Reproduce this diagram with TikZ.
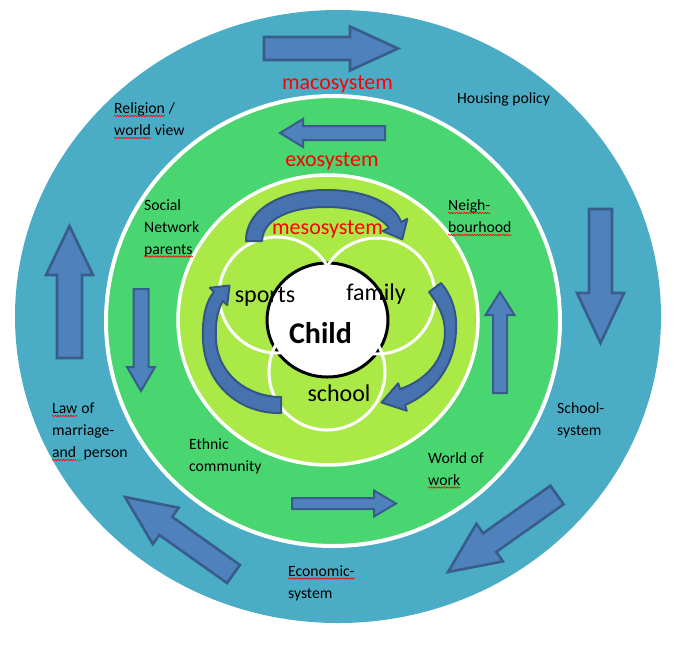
\documentclass[tikz,border=0pt]{standalone}
\usepackage{fontspec}
\setmainfont{Carlito}
\usetikzlibrary{calc,decorations.pathmorphing}
\definecolor{macroc}{RGB}{75,172,198}
\definecolor{exoc}{RGB}{73,214,112}
\definecolor{mesoc}{RGB}{171,233,71}
\definecolor{arrfill}{RGB}{79,129,189}
\definecolor{arrline}{RGB}{56,93,138}
\definecolor{curvfill}{RGB}{70,115,176}
\definecolor{curvline}{RGB}{52,86,132}
\definecolor{sysred}{RGB}{255,0,0}
\definecolor{sqgreen}{RGB}{40,160,40}
\newcommand{\lblfont}{\fontsize{15.7}{22}\selectfont}
\newcommand{\blockarrow}[6]{%
  \coordinate (ba-hb) at ($(#3)!#6!(#2)$);
  \draw[#1] ($(#2)!#4!90:(#3)$) -- ($(ba-hb)!#4!90:(#3)$) -- ($(ba-hb)!#5!90:(#3)$) -- (#3)
    -- ($(ba-hb)!#5!-90:(#3)$) -- ($(ba-hb)!#4!-90:(#3)$) -- ($(#2)!#4!-90:(#3)$) -- cycle;
}
\begin{document}
\begin{tikzpicture}[x=1pt,y=-1pt,
  bigarr/.style={fill=arrfill, draw=arrline, line width=2.6pt, line join=miter},
  midarr/.style={fill=arrfill, draw=arrline, line width=2pt, line join=miter},
  curvarr/.style={fill=curvfill, draw=curvline, line width=2pt, line join=round},
  lbl/.style={font=\lblfont, inner sep=0pt, anchor=base west, text=black},
  syslbl/.style={font=\fontsize{22}{24}\selectfont, inner sep=0pt, anchor=base, text=sysred},
  petlbl/.style={font=\fontsize{24}{26}\selectfont, inner sep=0pt, anchor=base, text=black},
  squig/.style={draw=red, line width=0.6pt, decorate, decoration={snake, segment length=2.6pt, amplitude=0.7pt}},
  squigg/.style={squig, draw=sqgreen},
  petal/.style={draw=white, line width=3pt}
]
\useasboundingbox (0,0) rectangle (693,651);
\fill[white] (0,0) rectangle (693,651);

% rings
\fill[macroc] (338,316.5) ellipse [x radius=323, y radius=306.5];
\draw[white, line width=4pt, fill=exoc] (333,321) ellipse [x radius=227, y radius=225];
\draw[white, line width=3.5pt, fill=mesoc] (328,320) ellipse [x radius=150, y radius=145];
\draw[black, line width=3pt, fill=white] (327.5,320) ellipse [x radius=60.5, y radius=57];
\draw[petal] (277,295) circle [radius=58];
\draw[petal] (377,296) circle [radius=58];
\draw[petal] (327,372) circle [radius=58];

% outer ring arrows
\coordinate (a1t) at (264,48.5);  \coordinate (a1h) at (398,48.5);
\coordinate (a2t) at (600.5,209); \coordinate (a2h) at (600.5,343);
\coordinate (a3t) at (557,495);   \coordinate (a3h) at (448,572);
\coordinate (a4t) at (233.5,574); \coordinate (a4h) at (125,497);
\coordinate (a5t) at (69.5,358);  \coordinate (a5h) at (69.5,226);
\blockarrow{bigarr}{a1t}{a1h}{11.5pt}{22pt}{48pt}
\blockarrow{bigarr}{a2t}{a2h}{11.5pt}{23.5pt}{50pt}
\blockarrow{bigarr}{a3t}{a3h}{11.4pt}{23pt}{51pt}
\blockarrow{bigarr}{a4t}{a4h}{11.1pt}{22.3pt}{50pt}
\blockarrow{bigarr}{a5t}{a5h}{12.5pt}{23.5pt}{49pt}

% middle ring arrows
\coordinate (b1t) at (385,133);   \coordinate (b1h) at (280,133);
\coordinate (b2t) at (141,289);   \coordinate (b2h) at (141,391);
\coordinate (b3t) at (500,393);   \coordinate (b3h) at (500,292);
\coordinate (b4t) at (292,503.5); \coordinate (b4h) at (396,503.5);
\blockarrow{midarr}{b1t}{b1h}{7pt}{14pt}{23pt}
\blockarrow{midarr}{b2t}{b2h}{7.5pt}{14pt}{24pt}
\blockarrow{midarr}{b3t}{b3h}{7pt}{14.5pt}{23pt}
\blockarrow{midarr}{b4t}{b4h}{5.5pt}{13pt}{22pt}

% curved arrows (mesosystem), tapered bands
% A: top, head pointing down at the right
\draw[curvarr] (246,241) .. controls (246,207) and (285,190) .. (326,190)
  .. controls (367,190) and (395,204) .. (401,222)
  -- (407.3,218.9) -- (402.2,239.3) -- (382.7,231.1) -- (389,228)
  .. controls (380,215) and (356,207) .. (326,207)
  .. controls (292,207) and (263,218) .. (262,241) -- cycle;
% B: right, head pointing left at the bottom
\draw[curvarr] (441,283) .. controls (452,296) and (457,312) .. (456,330)
  .. controls (455,365) and (435,392) .. (405,405)
  -- (406.8,410.7) -- (381.5,402.5) -- (398.2,383.3) -- (400,389)
  .. controls (425,381) and (445,360) .. (445,332)
  .. controls (445,318) and (439,305) .. (429,292) -- cycle;
% C: left, head pointing up-right at the top
\draw[curvarr] (281,413) .. controls (240,414) and (205,385) .. (203,340)
  .. controls (202,315) and (207,300) .. (214,292)
  -- (209.8,287.8) -- (229.5,285.5) -- (227.2,305.2) -- (223,301)
  .. controls (218,309) and (215,320) .. (216,340)
  .. controls (218,375) and (248,397) .. (281,397) -- cycle;

% system labels
\node[syslbl] (mac) at (337.5,89) {macosystem};
\node[syslbl] (exo) at (332,166) {exosystem};
\node[syslbl] (mes) at (327.5,234) {mesosystem};

% petal labels
\node[petlbl] (spo) at (265,302) {sports};
\node[petlbl] (fam) at (376,300) {family};
\node[petlbl] (sch) at (339,401) {school};
\node[petlbl, font=\fontsize{30}{32}\selectfont\bfseries] (chi) at (320.5,343) {Child};

% macrosystem labels
\node[lbl] (hou) at (457,103) {Housing policy};
\node[lbl] (rel1) at (114,113.5) {Religion};
\node[lbl] (rel1b) at (rel1.base east) {\ /};
\node[lbl] (rel2) at (114,135.5) {world};
\node[lbl] (rel2b) at (rel2.base east) {\ view};
\node[lbl] (law1) at (52,413.5) {Law};
\node[lbl] (law1b) at (law1.base east) {\ of};
\node[lbl] (law2) at (52,435.5) {marriage-};
\node[lbl] (law3) at (52,457.5) {and};
\node[lbl] (law3b) at (law3.base east) {\ \ person};
\node[lbl] (sch1) at (557,413) {School-};
\node[lbl] (sch2) at (557,435) {system};
\node[lbl] (eco1) at (288,576) {Economic-};
\node[lbl] (eco2) at (288,598) {system};

% exosystem labels
\node[lbl] (soc1) at (144,210.5) {Social};
\node[lbl] (soc2) at (144,232.5) {Network};
\node[lbl] (soc3) at (144,254) {parents};
\node[lbl] (nei1) at (448,210.5) {Neigh-};
\node[lbl] (nei2) at (448,232.5) {bourhood};
\node[lbl] (eth1) at (189,449) {Ethnic};
\node[lbl] (eth2) at (189,471) {community};
\node[lbl] (wow1) at (428,463) {World of};
\node[lbl] (wow2) at (428,485) {work};

% spelling squiggles
\foreach \n in {rel1,rel2,law1,law3,eco1,soc3,nei1,nei2,wow2}
  \draw[squig] ($(\n.base west)+(0,2.5)$) -- ($(\n.base east)+(0,2.5)$);
\draw[squigg] ($(law3.base east)+(0,2.5)$) -- ($(law3.base east)+(6,2.5)$);
\end{tikzpicture}
\end{document}
